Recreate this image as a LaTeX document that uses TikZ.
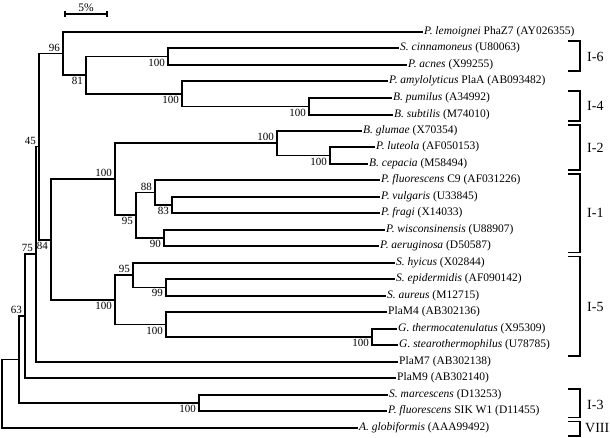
\documentclass[tikz,border=0pt]{standalone}
\usepackage{fontspec}
\setmainfont{Liberation Serif}
\usepackage{tikz}
\usetikzlibrary{positioning}
\tikzset{
  branch/.style={draw=black,line width=1.9pt},
  leaf/.style={anchor=west,inner sep=1pt,font=\fontsize{11.5}{13}\selectfont},
  boot/.style={inner xsep=3pt,inner ysep=2pt,font=\fontsize{11}{13}\selectfont},
  clade/.style={draw=black,line width=1.8pt},
  cladelab/.style={anchor=west,inner sep=0pt,font=\fontsize{14}{16}\selectfont},
  scalebar/.style={draw=black,line width=1.9pt}
}

\begin{document}
\begin{tikzpicture}[x=1pt,y=-1pt]
  \useasboundingbox (0,0) rectangle (610,438);
  % scale bar
  \coordinate (sbl) at (65,14);
  \coordinate (sbr) at (107,14);
  \draw[scalebar] (sbl) -- node[above=1pt,inner sep=0pt,font=\fontsize{11.5}{13}\selectfont] (sbt) {5\%} (sbr);
  \draw[scalebar] ([yshift=3pt]sbl) -- ([yshift=-3pt]sbl);
  \draw[scalebar] ([yshift=3pt]sbr) -- ([yshift=-3pt]sbr);

  % leaves
  \node[leaf] (lem) at (423,32)  {\textit{P. lemoignei} PhaZ7 (AY026355)};
  \node[leaf] (cin) at (399,48)  {\textit{S. cinnamoneus} (U80063)};
  \node[leaf] (acn) at (407,65)  {\textit{P. acnes} (X99255)};
  \node[leaf] (amy) at (388,81)  {\textit{P. amylolyticus} PlaA (AB093482)};
  \node[leaf] (pum) at (392,98)  {\textit{B. pumilus} (A34992)};
  \node[leaf] (sub) at (393,115) {\textit{B. subtilis} (M74010)};
  \node[leaf] (glu) at (362,131) {\textit{B. glumae} (X70354)};
  \node[leaf] (lut) at (375,147) {\textit{P. luteola} (AF050153)};
  \node[leaf] (cep) at (368,164) {\textit{B. cepacia} (M58494)};
  \node[leaf] (fc9) at (380,180) {\textit{P. fluorescens} C9 (AF031226)};
  \node[leaf] (vul) at (380,197) {\textit{P. vulgaris} (U33845)};
  \node[leaf] (fra) at (380,213) {\textit{P. fragi} (X14033)};
  \node[leaf] (wis) at (385,230) {\textit{P. wisconsinensis} (U88907)};
  \node[leaf] (aer) at (379,246) {\textit{P. aeruginosa} (D50587)};
  \node[leaf] (hyi) at (395,263) {\textit{S. hyicus} (X02844)};
  \node[leaf] (epi) at (395,279) {\textit{S. epidermidis} (AF090142)};
  \node[leaf] (aur) at (386,296) {\textit{S. aureus} (M12715)};
  \node[leaf] (m4)  at (387,312) {PlaM4 (AB302136)};
  \node[leaf] (the) at (397,329) {\textit{G. thermocatenulatus} (X95309)};
  \node[leaf] (ste) at (398,345) {\textit{G. stearothermophilus} (U78785)};
  \node[leaf] (m7)  at (398,362) {PlaM7 (AB302138)};
  \node[leaf] (m9)  at (396,378) {PlaM9 (AB302140)};
  \node[leaf] (mar) at (388,395) {\textit{S. marcescens} (D13253)};
  \node[leaf] (sik) at (387,411) {\textit{P. fluorescens} SIK W1 (D11455)};
  \node[leaf] (glo) at (358,428) {\textit{A. globiformis} (AAA99492)};

  % inner nodes
  \coordinate (jcin)  at (168,56.5);
  \coordinate (jbac)  at (309,106.5);
  \coordinate (jamy)  at (182,93.75);
  \coordinate (j81)   at (86,75);
  \coordinate (j96)   at (63,53.5);
  \coordinate (jlut)  at (330,155.5);
  \coordinate (jglu)  at (277,143.25);
  \coordinate (j83)   at (172,205);
  \coordinate (j88)   at (155,192.5);
  \coordinate (j90)   at (164,238);
  \coordinate (j95a)  at (136,215.25);
  \coordinate (jup)   at (115,179.25);
  \coordinate (j99)   at (166,287.5);
  \coordinate (j95b)  at (133,275.25);
  \coordinate (jgeo)  at (372,337);
  \coordinate (jm4)   at (166,324.5);
  \coordinate (jlow)  at (115,299.9);
  \coordinate (j84)   at (51,239.6);
  \coordinate (j45)   at (39,146.5);
  \coordinate (j75)   at (36,254.3);
  \coordinate (j63)   at (25,316);
  \coordinate (jmar)  at (199,403);
  \coordinate (jout)  at (19,359.5);
  \coordinate (root)  at (2,393.75);

  % branches
  \draw[branch] (jcin) |- (cin.west);
  \draw[branch] (jcin) |- (acn.west);
  \draw[branch] (jbac) |- (pum.west);
  \draw[branch] (jbac) |- (sub.west);
  \draw[branch] (jamy) |- (amy.west);
  \draw[branch] (jamy) |- (jbac);
  \draw[branch] (j81) |- (jcin);
  \draw[branch] (j81) |- (jamy);
  \draw[branch] (j96) |- (lem.west);
  \draw[branch] (j96) |- (j81);
  \draw[branch] (jlut) |- (lut.west);
  \draw[branch] (jlut) |- (cep.west);
  \draw[branch] (jglu) |- (glu.west);
  \draw[branch] (jglu) |- (jlut);
  \draw[branch] (j83) |- (vul.west);
  \draw[branch] (j83) |- (fra.west);
  \draw[branch] (j88) |- (fc9.west);
  \draw[branch] (j88) |- (j83);
  \draw[branch] (j90) |- (wis.west);
  \draw[branch] (j90) |- (aer.west);
  \draw[branch] (j95a) |- (j88);
  \draw[branch] (j95a) |- (j90);
  \draw[branch] (jup) |- (jglu);
  \draw[branch] (jup) |- (j95a);
  \draw[branch] (j99) |- (epi.west);
  \draw[branch] (j99) |- (aur.west);
  \draw[branch] (j95b) |- (hyi.west);
  \draw[branch] (j95b) |- (j99);
  \draw[branch] (jgeo) |- (the.west);
  \draw[branch] (jgeo) |- (ste.west);
  \draw[branch] (jm4) |- (m4.west);
  \draw[branch] (jm4) |- (jgeo);
  \draw[branch] (jlow) |- (j95b);
  \draw[branch] (jlow) |- (jm4);
  \draw[branch] (j84) |- (jup);
  \draw[branch] (j84) |- (jlow);
  \draw[branch] (j45) |- (j96);
  \draw[branch] (j45) |- (j84);
  \draw[branch] (j75) |- (j45);
  \draw[branch] (j75) |- (m7.west);
  \draw[branch] (j63) |- (j75);
  \draw[branch] (j63) |- (m9.west);
  \draw[branch] (jmar) |- (mar.west);
  \draw[branch] (jmar) |- (sik.west);
  \draw[branch] (jout) |- (j63);
  \draw[branch] (jout) |- (jmar);
  \draw[branch] (root) |- (jout);
  \draw[branch] (root) |- (glo.west);

  % bootstrap values
  \node[boot,above left] (b96)  at (j96)  {96};
  \node[boot,below left] (b81)  at (j81)  {81};
  \node[boot,below left] (bcin) at (jcin) {100};
  \node[boot,below left] (bamy) at (jamy) {100};
  \node[boot,below left] (bbac) at (jbac) {100};
  \node[boot,above left] (bglu) at (jglu) {100};
  \node[boot,below left] (blut) at (jlut) {100};
  \node[boot,above left] (bup)  at (jup)  {100};
  \node[boot,above left] (b88)  at (j88)  {88};
  \node[boot,below left] (b83)  at (j83)  {83};
  \node[boot,below left] (b95a) at (j95a) {95};
  \node[boot,below left] (b90)  at (j90)  {90};
  \node[boot,above left] (b95b) at (j95b) {95};
  \node[boot,below left] (b99)  at (j99)  {99};
  \node[boot,below left] (blow) at (jlow) {100};
  \node[boot,below left] (bm4)  at (jm4)  {100};
  \node[boot,below left] (bgeo) at (jgeo) {100};
  \node[boot,below left] (b84)  at (j84)  {84};
  \node[boot,above left] (b45)  at (j45)  {45};
  \node[boot,above left] (b75)  at (j75)  {75};
  \node[boot,above left] (b63)  at (j63)  {63};
  \node[boot,below left] (bmar) at (jmar) {100};

  % clade brackets
  \draw[clade] (568,41) -- (580,41) -- (580,71) -- (568,71);
  \draw[clade] (568,91) -- (580,91) -- (580,121) -- (568,121);
  \draw[clade] (568,125) -- (580,125) -- (580,170) -- (568,170);
  \draw[clade] (568,174) -- (580,174) -- (580,252.5) -- (568,252.5);
  \draw[clade] (568,256.5) -- (580,256.5) -- (580,356) -- (568,356);
  \draw[clade] (568,389) -- (580,389) -- (580,417.5) -- (568,417.5);
  \draw[clade] (568,421.5) -- (580,421.5) -- (580,436) -- (568,436);
  \node[cladelab] (c16) at (587,57)  {I-6};
  \node[cladelab] (c14) at (587,106) {I-4};
  \node[cladelab] (c12) at (587,148) {I-2};
  \node[cladelab] (c11) at (587,213) {I-1};
  \node[cladelab] (c15) at (587,307) {I-5};
  \node[cladelab] (c13) at (587,405) {I-3};
  \node[cladelab] (c8)  at (585,428) {VIII};
\end{tikzpicture}
\end{document}
